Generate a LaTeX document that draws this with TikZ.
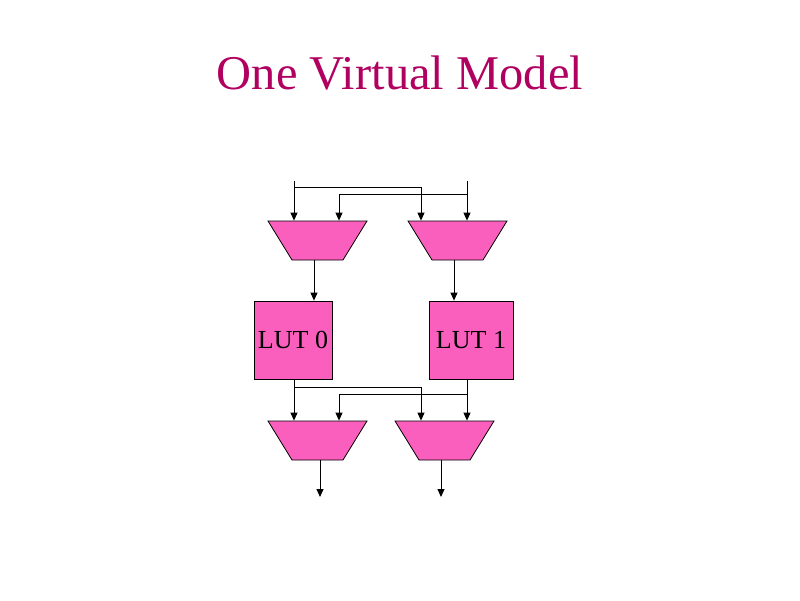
\documentclass[tikz,border=0pt]{standalone}
\usepackage{fontspec}
\setmainfont{Liberation Serif}
\usetikzlibrary{shapes.geometric,arrows.meta,calc}
\definecolor{lutpink}{RGB}{250,95,190}
\definecolor{titlered}{RGB}{176,0,96}
\tikzset{
  wire/.style={line width=1pt, -{Triangle[width=7pt,length=8pt]}},
  mux/.style={trapezium, shape border rotate=180, trapezium angle=58.4,
    inner xsep=25.5pt, inner ysep=19.5pt, minimum size=0pt,
    draw, fill=lutpink, line width=0.8pt},
  lut/.style={rectangle, draw, fill=lutpink, line width=0.8pt, minimum height=78pt,
    inner sep=0pt, font=\fontsize{26}{28}\selectfont}
}
\begin{document}
\begin{tikzpicture}[x=1pt,y=-1pt]
\useasboundingbox (0,0) rectangle (800,600);
\node[text=titlered, font=\fontsize{48.5}{52}\selectfont, anchor=base] (title) at (400,89) {One Virtual Model};
% first mux stage
\node[mux] (muxA) at (317.5,240.5) {};
\node[mux] (muxB) at (457.5,240.5) {};
\coordinate (in0) at (294,181);
\coordinate (in1) at (467,181);
\draw[wire] (in0) -- ([xshift=-23.5pt]muxA.north);
\draw[wire] (in1) -- ([xshift=9.5pt]muxB.north);
\draw[wire] ([yshift=-6pt]in0) -| ([xshift=-36.5pt]muxB.north);
\draw[wire] ([yshift=-13pt]in1) -| ([xshift=21.5pt]muxA.north);
% lookup tables
\node[lut, minimum width=78pt] (lut0) at (293,340) {LUT 0};
\node[lut, minimum width=84pt] (lut1) at (471,340) {LUT 1};
\draw[wire] ([xshift=-3.5pt]muxA.south) -- (lut0.north -| 314,0);
\draw[wire] ([xshift=-3.5pt]muxB.south) -- (lut1.north -| 454,0);
% second mux stage
\node[mux] (muxC) at (317.5,440.5) {};
\node[mux] (muxD) at (444.5,440.5) {};
\draw[wire] (lut0.south -| 294,0) -- ([xshift=-23.5pt]muxC.north);
\draw[wire] (lut1.south -| 467,0) -- ([xshift=22.5pt]muxD.north);
\draw[wire] ($(lut0.south -| 294,0)+(0,8)$) -| ([xshift=-23.5pt]muxD.north);
\draw[wire] ($(lut1.south -| 467,0)+(0,15)$) -| ([xshift=21.5pt]muxC.north);
\coordinate (out0) at (320,497);
\coordinate (out1) at (441,497);
\draw[wire] (muxC.south -| out0) -- (out0);
\draw[wire] (muxD.south -| out1) -- (out1);
\end{tikzpicture}
\end{document}
